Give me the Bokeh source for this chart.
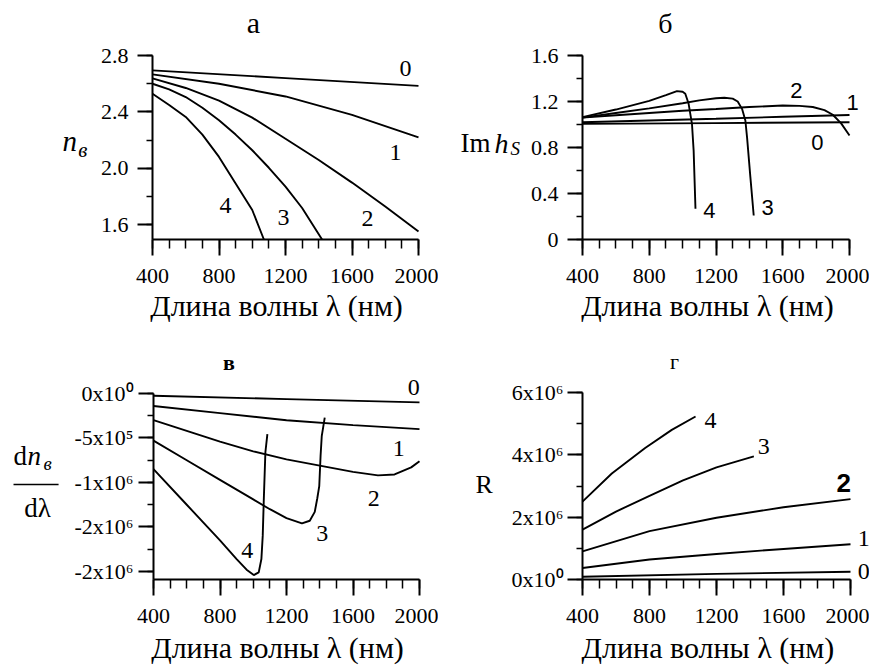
from bokeh.plotting import figure
from bokeh.layouts import column, row
from bokeh.models import Range1d, FixedTicker, Label, Arrow
from bokeh.embed import file_html
from bokeh.resources import INLINE

SERIF = "Liberation Serif"
SANS = "Liberation Sans"

# ---------------- data ----------------
x_major = [400, 800, 1200, 1600, 2000]
x_minor = [400, 500, 600, 700, 800, 900, 1000, 1100, 1200, 1300, 1400, 1500,
           1600, 1700, 1800, 1900, 2000]
x_title = "Длина волны λ (нм)"

# panel а : n_в
a_x0 = [400, 1200, 2000]
a_y0 = [2.695, 2.64, 2.585]
a_x1 = [400, 800, 1200, 1600, 2000]
a_y1 = [2.666, 2.60, 2.51, 2.38, 2.22]
a_x2 = [400, 600, 800, 1000, 1200, 1400, 1600, 1800, 2000]
a_y2 = [2.638, 2.57, 2.48, 2.36, 2.21, 2.06, 1.90, 1.73, 1.553]
a_x3 = [400, 500, 600, 700, 800, 900, 1000, 1100, 1200, 1300, 1420]
a_y3 = [2.60, 2.56, 2.506, 2.43, 2.341, 2.24, 2.129, 2.005, 1.871, 1.72, 1.497]
a_x4 = [400, 500, 600, 700, 800, 900, 1000, 1070]
a_y4 = [2.529, 2.45, 2.365, 2.24, 2.082, 1.894, 1.706, 1.497]
a_yticks = [1.6, 2.0, 2.4, 2.8]
a_yminor = [1.6, 1.8, 2.0, 2.2, 2.4, 2.6, 2.8]
a_ylabels = ["1.6", "2.0", "2.4", "2.8"]

# panel б : Im h_S
b_x0 = [400, 1200, 2000]
b_y0 = [1.005, 1.012, 1.02]
b_x1 = [400, 800, 1200, 1600, 2000]
b_y1 = [1.02, 1.035, 1.05, 1.067, 1.083]
b_x2 = [400, 600, 800, 1000, 1200, 1400, 1600, 1700, 1780, 1850, 1900, 1950, 2000]
b_y2 = [1.06, 1.08, 1.10, 1.12, 1.135, 1.152, 1.165, 1.162, 1.152, 1.125, 1.085, 1.01, 0.905]
b_x3 = [400, 600, 800, 1000, 1100, 1200, 1250, 1300, 1330, 1356, 1376, 1386, 1406, 1426]
b_y3 = [1.06, 1.10, 1.14, 1.185, 1.21, 1.228, 1.232, 1.225, 1.20, 1.136, 1.035, 0.89, 0.542, 0.209]
b_x4 = [400, 600, 800, 900, 966, 1000, 1016, 1036, 1056, 1066, 1077]
b_y4 = [1.064, 1.13, 1.205, 1.255, 1.29, 1.285, 1.267, 1.18, 1.006, 0.774, 0.267]
b_yticks = [0, 0.4, 0.8, 1.2, 1.6]
b_yminor = [0, 0.2, 0.4, 0.6, 0.8, 1.0, 1.2, 1.4, 1.6]
b_ylabels = ["0", "0.4", "0.8", "1.2", "1.6"]

# panel в : dn_в/dλ
c_x0 = [400, 1200, 2000]
c_y0 = [-0.026e6, -0.063e6, -0.10e6]
c_x1 = [400, 800, 1200, 1600, 2000]
c_y1 = [-0.14e6, -0.22e6, -0.30e6, -0.355e6, -0.40e6]
c_x2 = [400, 600, 800, 1000, 1200, 1400, 1600, 1750, 1850, 1950, 2000]
c_y2 = [-0.30e6, -0.42e6, -0.54e6, -0.65e6, -0.74e6, -0.81e6, -0.88e6, -0.92e6,
        -0.91e6, -0.83e6, -0.76e6]
c_x3 = [400, 600, 800, 1000, 1100, 1200, 1293, 1340, 1370, 1385, 1397, 1405, 1412, 1430]
c_y3 = [-0.53e6, -0.75e6, -0.97e6, -1.19e6, -1.30e6, -1.40e6, -1.46e6, -1.43e6,
        -1.33e6, -1.18e6, -1.04e6, -0.70e6, -0.48e6, -0.27e6]
c_x4 = [400, 600, 800, 900, 960, 1003, 1033, 1049, 1057, 1063, 1073, 1085]
c_y4 = [-0.85e6, -1.25e6, -1.65e6, -1.86e6, -1.98e6, -2.04e6, -2.01e6, -1.86e6,
        -1.60e6, -1.22e6, -0.66e6, -0.456e6]
c_yticks = [0, -0.5e6, -1.0e6, -1.5e6, -2.0e6]
c_yminor = [0, -0.25e6, -0.5e6, -0.75e6, -1.0e6, -1.25e6, -1.5e6, -1.75e6, -2.0e6]
c_ylabels = ["0x10⁰", "-5x10⁵", "-1x10⁶", "-2x10⁶", "-2x10⁶"]

# panel г : R
d_x0 = [400, 1200, 2000]
d_y0 = [0.09e6, 0.18e6, 0.25e6]
d_x1 = [400, 800, 1200, 1600, 2000]
d_y1 = [0.37e6, 0.64e6, 0.82e6, 0.98e6, 1.13e6]
d_x2 = [400, 800, 1200, 1600, 2000]
d_y2 = [0.90e6, 1.55e6, 1.98e6, 2.32e6, 2.58e6]
d_x3 = [400, 600, 800, 1000, 1200, 1423]
d_y3 = [1.60e6, 2.18e6, 2.68e6, 3.18e6, 3.60e6, 3.95e6]
d_x4 = [400, 575, 774, 933, 1075]
d_y4 = [2.50e6, 3.40e6, 4.22e6, 4.80e6, 5.23e6]
d_yticks = [0, 2e6, 4e6, 6e6]
d_yminor = [0, 1e6, 2e6, 3e6, 4e6, 5e6, 6e6]
d_ylabels = ["0x10⁰", "2x10⁶", "4x10⁶", "6x10⁶"]


# ---------------- helpers ----------------
def make_fig(W, H, box, ylo, yhi):
    """Figure whose frame fills the canvas; the axes are drawn at fixed
    locations so that the data box [400,2000]x[ylo,yhi] lands on `box`
    (pixels: left, right, top, bottom inside the canvas)."""
    fx0, fx1, fy0, fy1 = box
    kx = (2000 - 400) / (fx1 - fx0)
    ky = (yhi - ylo) / (fy1 - fy0)
    xr = Range1d(400 - fx0 * kx, 2000 + (W - fx1) * kx)
    yr = Range1d(ylo - (H - fy1) * ky, yhi + fy0 * ky)
    p = figure(width=W, height=H, x_range=xr, y_range=yr, output_backend="svg",
               toolbar_location=None, tools="", min_border=0)
    p.outline_line_color = None
    p.grid.visible = False
    p.background_fill_color = "white"
    p.border_fill_color = "white"
    p.xaxis.fixed_location = ylo
    p.xaxis.bounds = (400, 2000)
    p.yaxis.fixed_location = 400
    p.yaxis.bounds = (ylo, yhi)
    return p


def style_axes(p, yticks, yminor, ylabels, ystand=9):
    p.xaxis.ticker = FixedTicker(ticks=x_major, minor_ticks=x_minor)
    p.yaxis.ticker = FixedTicker(ticks=yticks, minor_ticks=yminor)
    for ax in (p.xaxis, p.yaxis):
        ax.axis_line_width = 2
        ax.axis_line_color = "black"
        ax.major_tick_line_width = 2
        ax.major_tick_line_color = "black"
        ax.minor_tick_line_width = 1.5
        ax.minor_tick_line_color = "black"
        ax.major_tick_in = 0
        ax.minor_tick_in = 0
        ax.major_label_text_font = SERIF
        ax.major_label_text_font_size = "22px"
        ax.major_label_text_color = "black"
    p.xaxis.major_tick_out = 16
    p.xaxis.minor_tick_out = 9
    p.xaxis.major_label_standoff = 13
    p.yaxis.major_tick_out = 15
    p.yaxis.minor_tick_out = 6
    p.yaxis.major_label_standoff = ystand
    p.yaxis.major_label_overrides = {float(t): s for t, s in zip(yticks, ylabels)}


def lab(p, x, y, text, size, font=SERIF, style="normal", align="center"):
    p.add_layout(Label(x=x, y=y, text=text, text_font=font,
                       text_font_size=f"{size}px", text_font_style=style,
                       text_align=align, text_baseline="middle",
                       text_color="black"))


def curves(p, xs, ys):
    for x, y in zip(xs, ys):
        p.line(x, y, line_color="black", line_width=1.9)


# ---------------- panel а ----------------
p1 = make_fig(438, 328, (152, 418, 55, 239), 1.497, 2.8)
style_axes(p1, a_yticks, a_yminor, a_ylabels)
curves(p1, [a_x0, a_x1, a_x2, a_x3, a_x4], [a_y0, a_y1, a_y2, a_y3, a_y4])
lab(p1, 1007, 3.037, "а", 30)
lab(p1, 1146, 1.033, x_title, 30)
lab(p1, -141, 2.196, "n", 29, style="italic", align="left")
lab(p1, -47, 2.130, "в", 21, style="italic", align="left")
for t, xx, yy in [("0", 1922, 2.708), ("1", 1862, 2.113), ("2", 1693, 1.646),
                  ("3", 1188, 1.653), ("4", 839, 1.738)]:
    lab(p1, xx, yy, t, 24)

# ---------------- panel б ----------------
p2 = make_fig(431, 328, (144, 411, 55, 239), 0, 1.6)
style_axes(p2, b_yticks, b_yminor, b_ylabels)
curves(p2, [b_x0, b_x1, b_x2, b_x3, b_x4], [b_y0, b_y1, b_y2, b_y3, b_y4])
lab(p2, 897, 1.876, "б", 28)
lab(p2, 1149, -0.570, x_title, 30)
lab(p2, -331, 0.838, "Im", 27, align="left")
lab(p2, -127, 0.838, "h", 28, style="italic", align="left")
lab(p2, -31, 0.787, "S", 19, style="italic", align="left")
for t, xx, yy in [("2", 1682, 1.296), ("1", 2018, 1.191), ("0", 1808, 0.843),
                  ("4", 1161, 0.252), ("3", 1509, 0.278)]:
    lab(p2, xx, yy, t, 22, font=SANS)

# ---------------- panel в ----------------
p3 = make_fig(438, 339, (153, 419, 65, 251), -2.09e6, 0)
style_axes(p3, c_yticks, c_yminor, c_ylabels, ystand=5)
curves(p3, [c_x0, c_x1, c_x2, c_x3, c_x4], [c_y0, c_y1, c_y2, c_y3, c_y4])
lab(p3, 854, 0.345e6, "в", 22, style="bold")
lab(p3, 1146, -2.855e6, x_title, 30)
lab(p3, -442, -0.703e6, "d", 27, align="left")
lab(p3, -358, -0.703e6, "n", 27, style="italic", align="left")
lab(p3, -262, -0.790e6, "в", 19, style="italic", align="left")
p3.add_layout(Arrow(x_start=-442, y_start=-1.022e6, x_end=-171, y_end=-1.022e6,
                    end=None, start=None, line_width=1.5, line_color="black"))
lab(p3, -298, -1.287e6, "dλ", 27)
for t, xx, yy in [("0", 1966, 0.071e6), ("1", 1875, -0.621e6), ("2", 1725, -1.183e6),
                  ("3", 1415, -1.576e6), ("4", 964, -1.764e6)]:
    lab(p3, xx, yy, t, 24)

# ---------------- panel г ----------------
p4 = make_fig(431, 339, (144, 412, 64, 251), 0, 6e6)
style_axes(p4, d_yticks, d_yminor, d_ylabels, ystand=4)
curves(p4, [d_x0, d_x1, d_x2, d_x3, d_x4], [d_y0, d_y1, d_y2, d_y3, d_y4])
lab(p4, 949, 7.007e6, "г", 22)
lab(p4, 1149, -2.19e6, x_title, 30)
lab(p4, -239, 3.05e6, "R", 26, align="left")
for t, xx, yy, f, s, st in [("4", 1164, 5.10e6, SERIF, 24, "normal"),
                            ("3", 1482, 4.27e6, SERIF, 24, "normal"),
                            ("2", 1960, 3.10e6, SANS, 26, "bold"),
                            ("1", 2079, 1.31e6, SERIF, 24, "normal"),
                            ("0", 2079, 0.27e6, SERIF, 24, "normal")]:
    lab(p4, xx, yy, t, s, font=f, style=st)

layout = column(row(p1, p2), row(p3, p4))
open("out.html", "w").write(file_html(layout, INLINE))
